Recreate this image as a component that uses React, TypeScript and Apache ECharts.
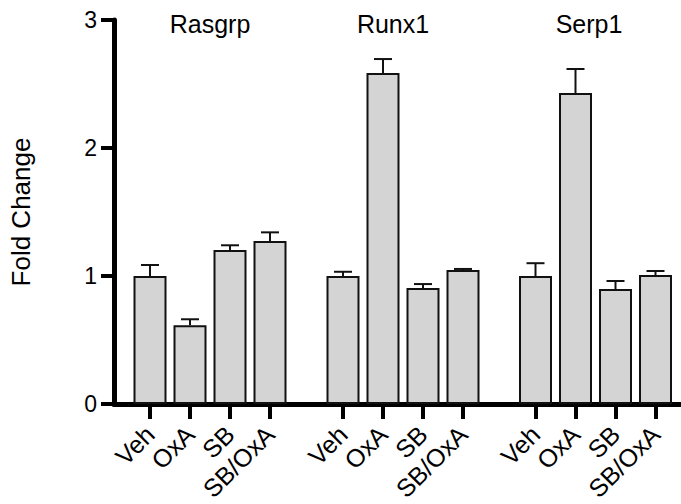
import React, { useEffect, useRef } from "react";
import * as echarts from "echarts";

const categories = ["Veh", "OxA", "SB", "SB/OxA"];
const genes = ["Rasgrp", "Runx1", "Serp1"];
const rasgrpMean = [1.0, 0.615, 1.203, 1.273];
const rasgrpErr = [0.086, 0.047, 0.037, 0.068];
const runx1Mean = [1.0, 2.586, 0.906, 1.047];
const runx1Err = [0.033, 0.109, 0.031, 0.008];
const serp1Mean = [1.0, 2.43, 0.898, 1.008];
const serp1Err = [0.1, 0.187, 0.063, 0.031];
const yTicks = [0, 1, 2, 3];

const FONT = "'Liberation Sans', Arial, Helvetica, sans-serif";

export default function App() {
  const ref = useRef<HTMLDivElement>(null);
  useEffect(() => {
    if (!ref.current) return;
    const chart = echarts.init(ref.current, null, { renderer: "svg" });
    const means = [rasgrpMean, runx1Mean, serp1Mean];
    const errs = [rasgrpErr, runx1Err, serp1Err];
    const groupLefts = [130, 323, 515.5];
    const groupWidth = 160;
    const top = 20;
    const height = 384;
    const yMin = yTicks[0];
    const yMax = yTicks[yTicks.length - 1];

    const grids: any[] = [{ left: 114, right: 0, top, height, outerBoundsMode: "none", containLabel: false }];
    const xAxes: any[] = [
      {
        type: "value",
        gridIndex: 0,
        min: 0,
        max: 1,
        axisLine: { show: true, lineStyle: { color: "#000", width: 5 } },
        axisTick: { show: false },
        axisLabel: { show: false },
        splitLine: { show: false },
      },
    ];
    const yAxes: any[] = [
      {
        type: "value",
        gridIndex: 0,
        min: yMin,
        max: yMax,
        interval: 1,
        axisLine: { show: true, lineStyle: { color: "#000", width: 5 } },
        axisTick: { show: true, inside: false, length: 13, lineStyle: { color: "#000", width: 4 } },
        axisLabel: { color: "#000", fontSize: 23, fontFamily: FONT, margin: 17 },
        splitLine: { show: false },
        name: "Fold Change",
        nameLocation: "middle",
        nameGap: 80,
        nameRotate: 90,
        nameTextStyle: { color: "#000", fontSize: 26, fontFamily: FONT },
      },
    ];
    const series: any[] = [];
    genes.forEach((g, gi) => {
      const idx = gi + 1;
      grids.push({
        left: groupLefts[gi],
        width: groupWidth,
        top,
        height,
        outerBoundsMode: "none",
        containLabel: false,
      });
      xAxes.push({
        type: "category",
        gridIndex: idx,
        data: categories,
        axisLine: { show: false },
        axisTick: { show: true, alignWithLabel: true, length: 15, lineStyle: { color: "#000", width: 4 } },
        axisLabel: { rotate: 45, color: "#000", fontSize: 25, fontFamily: FONT, margin: 26, interval: 0 },
        splitLine: { show: false },
      });
      yAxes.push({
        type: "value",
        gridIndex: idx,
        min: yMin,
        max: yMax,
        show: false,
      });
      series.push({
        type: "bar",
        name: g,
        xAxisIndex: idx,
        yAxisIndex: idx,
        barWidth: 33,
        data: means[gi],
        itemStyle: { color: "#d4d4d4", borderColor: "#111", borderWidth: 2 },
      });
      series.push({
        type: "custom",
        name: g + " SEM",
        xAxisIndex: idx,
        yAxisIndex: idx,
        data: means[gi].map((m, i) => [i, m, m + errs[gi][i]]),
        encode: { x: 0, y: [1, 2] },
        z: 3,
        renderItem: (params: any, api: any) => {
          const x = api.value(0);
          const p0 = api.coord([x, api.value(1)]);
          const p1 = api.coord([x, api.value(2)]);
          const st = { stroke: "#111", lineWidth: 2 };
          return {
            type: "group",
            children: [
              { type: "line", shape: { x1: p0[0], y1: p0[1], x2: p1[0], y2: p1[1] }, style: st },
              { type: "line", shape: { x1: p1[0] - 9, y1: p1[1], x2: p1[0] + 9, y2: p1[1] }, style: st },
            ],
          };
        },
      });
    });

    const titleX = [210, 393, 589];
    chart.setOption({
      animation: false,
      backgroundColor: "#fff",
      grid: grids,
      xAxis: xAxes,
      yAxis: yAxes,
      series,
      graphic: genes.map((g, gi) => ({
        type: "text",
        x: titleX[gi],
        y: 24,
        style: {
          text: g,
          fill: "#000",
          font: `25px ${FONT}`,
          textAlign: "center",
          textVerticalAlign: "middle",
        },
      })),
    });
    return () => chart.dispose();
  }, []);
  return (
    <div
      ref={ref}
      style={{ position: "fixed", left: 0, top: 0, width: 681, height: 504 }}
    />
  );
}
